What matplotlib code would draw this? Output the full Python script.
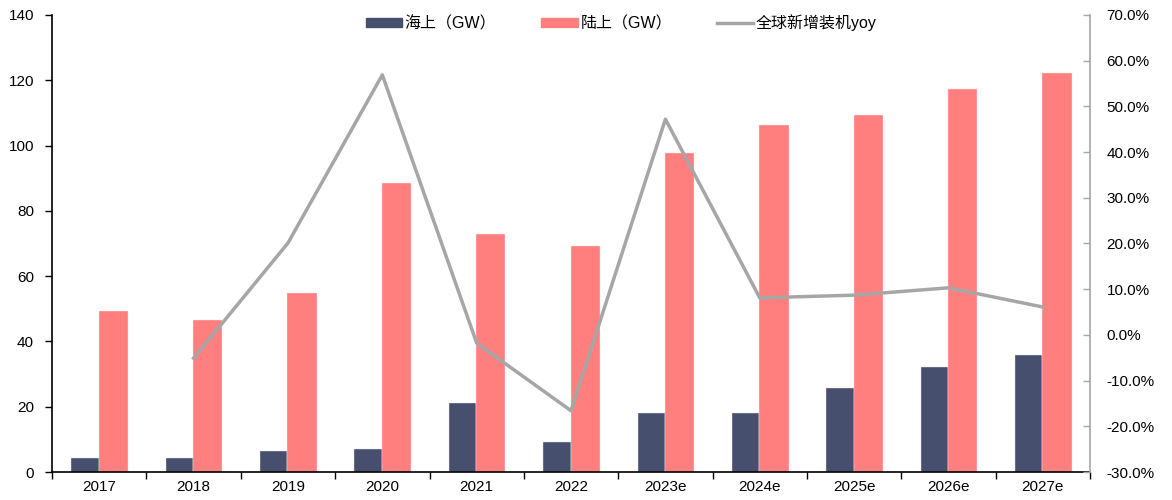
import numpy as np
import matplotlib.pyplot as plt
from matplotlib.patches import Patch
from matplotlib.lines import Line2D
from matplotlib.ticker import FuncFormatter

plt.rcParams['font.family'] = ['Liberation Sans', 'Noto Sans CJK SC', 'DejaVu Sans']

years = ['2017', '2018', '2019', '2020', '2021', '2022',
         '2023e', '2024e', '2025e', '2026e', '2027e']
offshore = [4.3, 4.3, 6.4, 7.0, 21.1, 9.2, 18.1, 18.1, 25.7, 32.2, 35.8]
onshore = [49.3, 46.6, 54.8, 88.5, 72.9, 69.2, 97.7, 106.3, 109.4, 117.3, 122.2]
# yoy growth of global new installations, starts from 2018
yoy = [-5.1, 20.1, 56.9, -1.8, -16.6, 47.2, 8.1, 8.7, 10.3, 6.1]

navy = '#46506E'
pink = '#FF7F7F'
grey = '#A6A6A6'

fig = plt.figure(figsize=(11.72, 5.0), dpi=100)
ax = fig.add_axes([0.0444, 0.056, 0.8857, 0.914])
x = np.arange(len(years))

# offshore bars sit left of the category centre, onshore bars right of it
ax.bar(x - 0.295, offshore, width=0.29, align='edge', color=navy,
       edgecolor='#E8E8EE', linewidth=0.3, zorder=2)
ax.bar(x - 0.005, onshore, width=0.31, align='edge', color=pink,
       edgecolor='#FFE8E8', linewidth=0.3, zorder=2)

ax.set_xlim(-0.5, len(years) - 0.5)
ax.set_ylim(0, 140)
ax.set_yticks(np.arange(0, 141, 20))
ax.set_xticks(x)
ax.set_xticklabels(years)
ax.set_xticks(np.arange(-0.5, len(years), 1), minor=True)
ax.tick_params(axis='x', which='major', length=0, labelsize=11, pad=6)
ax.tick_params(axis='x', which='minor', length=5, width=1, direction='out', color='black')
ax.tick_params(axis='y', length=5, width=1, direction='out', labelsize=11, pad=8)
ax.spines['top'].set_visible(False)
ax.spines['right'].set_visible(False)
ax.spines['left'].set_linewidth(1.2)
ax.spines['bottom'].set_linewidth(1.2)

ax2 = ax.twinx()
ax2.plot(x[1:], yoy, color=grey, linewidth=2.5, zorder=3)
ax2.set_ylim(-30, 70)
ax2.set_yticks(np.arange(-30, 71, 10))
ax2.yaxis.set_major_formatter(FuncFormatter(lambda v, _: f'{v:.1f}%'))
ax2.tick_params(axis='y', length=5, width=1, direction='in', color=grey,
                labelsize=11, pad=12)
for s in ['top', 'left', 'bottom']:
    ax2.spines[s].set_visible(False)
ax2.spines['right'].set_color(grey)
ax2.spines['right'].set_linewidth(1.2)

handles = [Patch(color=navy), Patch(color=pink), Line2D([], [], color=grey, linewidth=2.5)]
labels = ['海上（GW）', '陆上（GW）', '全球新增装机yoy']
fig.legend(handles, labels, loc='upper center', bbox_to_anchor=(0.53, 1.0),
           ncol=3, frameon=False, fontsize=11.5, handlelength=2.3, handleheight=0.5,
           handletextpad=0.15, columnspacing=2.8)

fig.savefig('out.png', dpi=100)
